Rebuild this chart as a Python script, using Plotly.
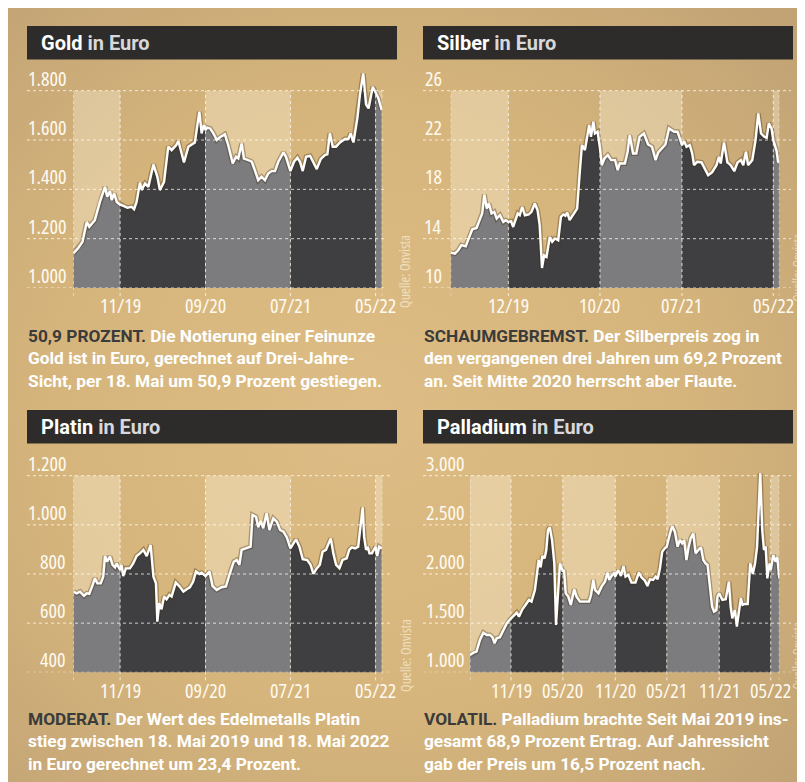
import base64
import pandas as pd
import plotly.graph_objects as go

# page is offset by the 8px body margin; the figure fills the rest of the window
OFF = 8
W, H = 797, 774

# ---------------- data ----------------
gold_dates = ["2019-05-18","2019-06-05","2019-06-20","2019-07-05","2019-07-14","2019-08-03","2019-08-21","2019-09-08","2019-09-16","2019-09-26",
              "2019-10-02","2019-10-11","2019-10-20","2019-11-01","2019-11-13","2019-11-27","2019-12-12","2019-12-21","2019-12-30","2020-01-11",
              "2020-01-17","2020-01-29","2020-02-10","2020-02-28","2020-03-13","2020-03-22","2020-04-06","2020-04-21","2020-05-03","2020-05-19",
              "2020-05-27","2020-06-04","2020-06-16","2020-07-02","2020-07-13","2020-07-25","2020-08-10","2020-08-18","2020-08-26","2020-09-01",
              "2020-09-07","2020-09-17","2020-09-29","2020-10-11","2020-10-25","2020-11-09","2020-11-21","2020-12-07","2020-12-19","2020-12-27",
              "2021-01-08","2021-01-16","2021-02-01","2021-02-13","2021-02-25","2021-03-08","2021-03-20","2021-04-01","2021-04-13","2021-04-25",
              "2021-05-07","2021-05-19","2021-06-06","2021-06-15","2021-07-01","2021-07-14","2021-07-26","2021-08-04","2021-08-14","2021-08-26",
              "2021-09-09","2021-09-18","2021-10-03","2021-10-17","2021-11-01","2021-11-10","2021-11-19","2021-11-29","2021-12-11","2021-12-25",
              "2022-01-12","2022-01-24","2022-02-01","2022-02-11","2022-02-25","2022-03-06","2022-03-18","2022-03-28","2022-04-06","2022-04-21",
              "2022-05-01","2022-05-11","2022-05-23"]
gold_values = [1140,1162,1187,1268,1248,1275,1349,1410,1370,1393,
               1356,1383,1349,1338,1333,1325,1329,1319,1349,1428,
               1397,1424,1410,1501,1451,1397,1430,1573,1559,1579,
               1596,1559,1509,1573,1582,1590,1715,1627,1661,1640,
               1650,1647,1627,1600,1613,1623,1579,1505,1532,1525,
               1586,1525,1518,1512,1474,1437,1451,1437,1464,1474,
               1474,1512,1550,1532,1474,1512,1528,1512,1474,1532,
               1536,1518,1482,1522,1539,1542,1627,1573,1573,1590,
               1604,1604,1627,1590,1688,1782,1870,1744,1728,1816,
               1793,1769,1721]

silver_dates = ["2019-05-23","2019-06-06","2019-06-17","2019-06-28","2019-07-12","2019-07-23","2019-08-03","2019-08-17","2019-08-28","2019-09-05",
                "2019-09-12","2019-09-20","2019-09-27","2019-10-06","2019-10-15","2019-10-23","2019-11-03","2019-11-14","2019-11-22","2019-12-01",
                "2019-12-10","2019-12-17","2020-01-01","2020-01-08","2020-01-16","2020-01-25","2020-02-07","2020-02-16","2020-02-27","2020-03-07",
                "2020-03-14","2020-03-22","2020-03-29","2020-04-06","2020-04-17","2020-04-25","2020-05-04","2020-05-15","2020-05-24","2020-06-01",
                "2020-06-08","2020-06-14","2020-06-22","2020-07-03","2020-07-17","2020-07-25","2020-08-02","2020-08-12","2020-08-20","2020-08-26",
                "2020-09-01","2020-09-09","2020-09-14","2020-09-23","2020-10-01","2020-10-07","2020-10-16","2020-10-27","2020-11-07","2020-11-20",
                "2020-11-29","2020-12-06","2020-12-23","2021-01-01","2021-01-08","2021-01-19","2021-01-30","2021-02-10","2021-02-24","2021-03-10",
                "2021-03-23","2021-04-04","2021-04-13","2021-04-26","2021-05-07","2021-05-19","2021-06-05","2021-06-16","2021-07-01","2021-07-08",
                "2021-07-16","2021-07-27","2021-08-04","2021-08-10","2021-08-21","2021-09-04","2021-09-15","2021-09-26","2021-10-09","2021-10-24",
                "2021-11-01","2021-11-07","2021-11-18","2021-11-29","2021-12-10","2021-12-22","2022-01-02","2022-01-13","2022-01-21","2022-01-30",
                "2022-02-06","2022-02-20","2022-03-03","2022-03-12","2022-03-21","2022-04-01","2022-04-09","2022-04-16","2022-04-25","2022-05-01",
                "2022-05-12","2022-05-17","2022-05-21"]
silver_values = [12.87,12.79,13.06,13.47,13.38,14.01,14.76,14.87,15.63,16.04,
                 17.58,16.44,16.85,16.04,16.17,15.63,15.90,15.36,15.50,15.36,
                 15.41,14.95,16.04,15.90,16.58,15.90,15.96,16.17,16.85,16.31,
                 15.14,11.62,12.65,12.52,14.14,13.74,14.01,13.87,15.77,15.96,
                 15.85,16.12,15.50,15.90,16.44,19.15,21.59,21.18,22.53,23.21,
                 22.26,23.48,22.53,22.67,21.32,19.96,20.50,20.77,20.37,20.37,
                 19.56,20.10,20.10,21.05,22.40,20.91,20.91,22.26,22.53,21.64,
                 21.45,20.37,20.99,21.32,21.64,22.94,22.67,22.67,21.59,21.91,
                 21.45,21.59,20.91,19.96,20.23,20.18,19.69,19.15,19.37,19.96,
                 20.64,20.10,21.80,20.18,19.96,19.47,20.18,20.37,19.96,21.05,
                 19.96,20.37,21.99,24.16,22.53,22.26,22.18,23.35,22.94,21.99,
                 21.10,20.18,20.37]

platin_dates = ["2019-05-18","2019-05-30","2019-06-11","2019-06-25","2019-07-05","2019-07-14","2019-07-26","2019-08-03","2019-08-12","2019-08-24",
                "2019-09-02","2019-09-08","2019-09-16","2019-09-26","2019-10-05","2019-10-14","2019-10-20","2019-11-01","2019-11-06","2019-11-12",
                "2019-11-22","2019-12-06","2019-12-18","2019-12-30","2020-01-11","2020-01-23","2020-02-04","2020-02-18","2020-02-28","2020-03-08",
                "2020-03-13","2020-03-20","2020-03-28","2020-04-06","2020-04-15","2020-04-25","2020-05-03","2020-05-18","2020-05-30","2020-06-14",
                "2020-06-26","2020-07-07","2020-07-19","2020-07-29","2020-08-10","2020-08-18","2020-09-01","2020-09-07","2020-09-15","2020-09-26",
                "2020-10-11","2020-10-28","2020-11-13","2020-11-27","2020-12-11","2020-12-21","2020-12-31","2021-01-08","2021-01-23","2021-02-09",
                "2021-02-16","2021-02-28","2021-03-08","2021-03-17","2021-03-26","2021-04-07","2021-04-17","2021-05-01","2021-05-13","2021-05-25",
                "2021-06-06","2021-06-18","2021-07-01","2021-07-09","2021-07-21","2021-08-02","2021-08-14","2021-08-30","2021-09-11","2021-09-21",
                "2021-10-03","2021-10-14","2021-10-24","2021-11-05","2021-11-22","2021-12-01","2021-12-11","2021-12-23","2022-01-03","2022-01-18",
                "2022-01-27","2022-02-05","2022-02-17","2022-02-28","2022-03-06","2022-03-16","2022-03-21","2022-03-28","2022-04-03","2022-04-09",
                "2022-04-18","2022-04-25","2022-05-01","2022-05-07","2022-05-14","2022-05-23"]
platin_values = [728,721,728,711,721,719,755,782,762,762,
                 789,873,850,871,837,827,843,816,837,792,
                 823,823,843,873,884,898,873,918,789,762,
                 606,681,656,708,697,715,708,765,751,728,
                 738,746,769,810,800,805,792,800,810,751,
                 735,746,749,803,850,857,837,898,904,911,
                 1040,1033,990,1017,986,1047,979,1026,1013,979,
                 972,949,904,918,941,911,860,857,837,800,
                 823,837,891,898,945,884,837,823,857,864,
                 898,908,904,911,965,1071,952,898,911,884,
                 884,900,911,873,911,904]

palladium_dates = ["2019-06-10","2019-06-22","2019-07-03","2019-07-15","2019-07-27","2019-08-08","2019-08-19","2019-08-28","2019-09-04","2019-09-12",
                   "2019-09-23","2019-10-05","2019-10-17","2019-10-29","2019-11-01","2019-11-09","2019-11-21","2019-11-29","2019-12-11","2019-12-22",
                   "2020-01-03","2020-01-12","2020-01-24","2020-02-02","2020-02-06","2020-02-13","2020-02-19","2020-02-27","2020-03-04","2020-03-10",
                   "2020-03-16","2020-03-24","2020-04-01","2020-04-07","2020-04-15","2020-04-21","2020-05-01","2020-05-05","2020-05-11","2020-05-20",
                   "2020-05-29","2020-06-10","2020-06-18","2020-06-30","2020-07-18","2020-08-01","2020-08-08","2020-08-16","2020-08-22","2020-09-03",
                   "2020-09-14","2020-09-26","2020-10-05","2020-10-11","2020-10-19","2020-10-29","2020-11-01","2020-11-11","2020-11-21","2020-11-30",
                   "2020-12-07","2020-12-17","2020-12-28","2021-01-11","2021-01-23","2021-02-01","2021-02-13","2021-02-22","2021-03-03","2021-03-14",
                   "2021-03-23","2021-03-30","2021-04-07","2021-04-15","2021-04-24","2021-05-01","2021-05-12","2021-05-20","2021-05-29","2021-06-08",
                   "2021-06-16","2021-06-24","2021-07-01","2021-07-09","2021-07-17","2021-07-24","2021-08-02","2021-08-10","2021-08-20","2021-08-29",
                   "2021-09-06","2021-09-14","2021-09-21","2021-09-29","2021-10-07","2021-10-14","2021-10-22","2021-10-26","2021-11-01","2021-11-12",
                   "2021-11-24","2021-12-05","2021-12-11","2021-12-17","2021-12-26","2022-01-02","2022-01-10","2022-01-16","2022-01-22","2022-01-30",
                   "2022-02-09","2022-02-18","2022-02-27","2022-03-07","2022-03-14","2022-03-19","2022-03-25","2022-04-01","2022-04-07","2022-04-13",
                   "2022-04-19","2022-04-27","2022-05-01","2022-05-10","2022-05-18","2022-05-24","2022-05-31"]
palladium_values = [1176,1200,1210,1329,1403,1380,1380,1356,1295,1346,
                    1356,1430,1498,1539,1549,1566,1607,1566,1641,1685,
                    1736,1719,1837,2041,2142,2068,2183,2159,2244,2448,
                    2475,2346,2108,1481,1905,2108,2024,2041,1803,1770,
                    1685,1844,1770,1719,1719,1719,1786,1939,1837,1803,
                    1871,1922,2014,1939,1980,2014,1973,2041,1980,2081,
                    1973,1990,1912,1912,2014,1966,1932,1878,1946,1939,
                    1973,1946,2058,2227,2261,2278,2407,2488,2431,2278,
                    2346,2312,2346,2142,2278,2363,2414,2210,2244,2271,
                    2142,2108,2092,1871,1668,1617,1634,1770,1803,1736,
                    1743,1922,1668,1549,1634,1464,1617,1753,1685,1695,
                    1695,2108,2000,2108,2278,2583,3024,2448,2244,2278,
                    1956,2108,2041,2193,2125,2170,1956]

gold_yticks = [1000, 1200, 1400, 1600, 1800]
gold_ytext = ["1.000", "1.200", "1.400", "1.600", "1.800"]
silver_yticks = [10, 14, 18, 22, 26]
silver_ytext = ["10", "14", "18", "22", "26"]
platin_yticks = [400, 600, 800, 1000, 1200]
platin_ytext = ["400", "600", "800", "1.000", "1.200"]
palladium_yticks = [1000, 1500, 2000, 2500, 3000]
palladium_ytext = ["1.000", "1.500", "2.000", "2.500", "3.000"]

gold_xticks = ["2019-11-01", "2020-09-01", "2021-07-01", "2022-05-01"]
gold_xtext = ["11/19", "09/20", "07/21", "05/22"]
silver_xticks = ["2019-12-01", "2020-10-01", "2021-07-01", "2022-05-01"]
silver_xtext = ["12/19", "10/20", "07/21", "05/22"]
platin_xticks = gold_xticks
platin_xtext = gold_xtext
palladium_xticks = ["2019-11-01", "2020-05-01", "2020-11-01", "2021-05-01", "2021-11-01", "2022-05-01"]
palladium_xtext = ["11/19", "05/20", "11/20", "05/21", "11/21", "05/22"]

titles = [("Gold", " in Euro"), ("Silber", " in Euro"), ("Platin", " in Euro"), ("Palladium", " in Euro")]
captions = [
    ("50,9 PROZENT.", " Die Notierung einer Feinunze<br>Gold ist in Euro, gerechnet auf Drei-Jahre-<br>Sicht, per 18. Mai um 50,9 Prozent gestiegen."),
    ("SCHAUMGEBREMST.", " Der Silberpreis zog in<br>den vergangenen drei Jahren um 69,2 Prozent<br>an. Seit Mitte 2020 herrscht aber Flaute."),
    ("MODERAT.", " Der Wert des Edelmetalls Platin<br>stieg zwischen 18. Mai 2019 und 18. Mai 2022<br>in Euro gerechnet um 23,4 Prozent."),
    ("VOLATIL.", " Palladium brachte Seit Mai 2019 ins-<br>gesamt 68,9 Prozent Ertrag. Auf Jahressicht<br>gab der Preis um 16,5 Prozent nach."),
]
source_text = "Quelle: Onvista"

# ---------------- styling ----------------
DARK = "#3f3f41"
GRAY = "#7c7c7e"
BAND = "rgba(255,246,226,0.34)"
BAR = "#2e2c2a"
GRID = "rgba(255,255,255,0.75)"
TICKFONT = "Open Sans, sans-serif"
TEXTFONT = "Roboto, Liberation Sans, sans-serif"


def cond(t):
    return "<span style='font-stretch:condensed'>%s</span>" % t


def px(x):
    return (x - OFF) / W


def py(y):
    return 1 - (y - OFF) / H


panels = [
    dict(ax="", dates=gold_dates, values=gold_values, xr=["2019-05-18", "2022-05-25"], xdom=(73.3, 382.3),
         ybot=288.0, ytop_px=65.0, ytop_grid=90.7, yticks=gold_yticks, ytext=gold_ytext,
         xticks=gold_xticks, xtext=gold_xtext, lab_right=68, hline=(27, 384), bar=(27, 397, 26, 59.5),
         title=titles[0], caption=captions[0], cap_y=324, xlab_y=305, src=(405, 272, 14), left=27),
    dict(ax="2", dates=silver_dates, values=silver_values, xr=["2019-05-23", "2022-05-21"], xdom=(450.7, 779.3),
         ybot=288.0, ytop_px=65.0, ytop_grid=90.7, yticks=silver_yticks, ytext=silver_ytext,
         xticks=silver_xticks, xtext=silver_xtext, lab_right=444, hline=(423, 791), bar=(423, 793, 26, 59.5),
         title=titles[1], caption=captions[1], cap_y=324, xlab_y=305, src=(796.5, 268, 13), left=423),
    dict(ax="3", dates=platin_dates, values=platin_values, xr=["2019-05-18", "2022-05-25"], xdom=(73.3, 382.3),
         ybot=672.3, ytop_px=455.0, ytop_grid=475.7, yticks=platin_yticks, ytext=platin_ytext,
         xticks=platin_xticks, xtext=platin_xtext, lab_right=68, hline=(27, 392), bar=(27, 397, 410, 443.5),
         title=titles[2], caption=captions[2], cap_y=707, xlab_y=690, src=(405, 656, 14), left=27),
    dict(ax="4", dates=palladium_dates, values=palladium_values, xr=["2019-06-10", "2022-05-31"], xdom=(470.0, 779.3),
         ybot=672.3, ytop_px=455.0, ytop_grid=475.7, yticks=palladium_yticks, ytext=palladium_ytext,
         xticks=palladium_xticks, xtext=palladium_xtext, lab_right=466, hline=(423, 791), bar=(423, 793, 410, 443.5),
         title=titles[3], caption=captions[3], cap_y=707, xlab_y=690, src=(796.5, 656, 13), left=423),
]

fig = go.Figure()
shapes = []
annotations = []
layout_axes = {}

for p in panels:
    xa = "x" + p["ax"]
    ya = "y" + p["ax"]
    y0v, y1v = p["yticks"][0], p["yticks"][-1]
    ppu = (p["ybot"] - p["ytop_grid"]) / (y1v - y0v)
    ytop_val = y1v + (p["ytop_grid"] - p["ytop_px"]) / ppu
    layout_axes["xaxis" + p["ax"]] = dict(domain=[px(p["xdom"][0]), px(p["xdom"][1])], range=p["xr"], type="date",
                                          visible=False, anchor=ya, fixedrange=True)
    layout_axes["yaxis" + p["ax"]] = dict(domain=[py(p["ybot"]), py(p["ytop_px"])], range=[y0v, ytop_val],
                                          visible=False, anchor=xa, fixedrange=True)

    df = pd.DataFrame({"d": pd.to_datetime(p["dates"]), "v": p["values"]})
    edges = [pd.Timestamp(p["xr"][0])] + [pd.Timestamp(t) for t in p["xticks"]] + [pd.Timestamp(p["xr"][1])]

    for i in range(len(edges) - 1):
        if i % 2 == 0:
            shapes.append(dict(type="rect", xref=xa, yref=ya, x0=edges[i], x1=edges[i + 1], y0=y0v, y1=y1v,
                               fillcolor=BAND, line=dict(width=0), layer="below"))

    for i in range(len(edges) - 1):
        seg = df[(df.d >= edges[i]) & (df.d <= edges[i + 1])]
        fig.add_trace(go.Scatter(x=seg.d, y=seg.v, mode="lines", line=dict(width=0), fill="tozeroy",
                                 fillcolor=GRAY if i % 2 == 0 else DARK, xaxis=xa, yaxis=ya,
                                 hoverinfo="skip", showlegend=False))
    fig.add_trace(go.Scatter(x=df.d, y=df.v, mode="lines", line=dict(color="rgba(60,40,15,0.35)", width=5),
                             xaxis=xa, yaxis=ya, hoverinfo="skip", showlegend=False))
    fig.add_trace(go.Scatter(x=df.d, y=df.v, mode="lines", line=dict(color="white", width=2.4),
                             xaxis=xa, yaxis=ya, showlegend=False))

    for v in p["yticks"]:
        shapes.append(dict(type="line", xref="paper", yref=ya, x0=px(p["hline"][0]), x1=px(p["hline"][1]),
                           y0=v, y1=v, line=dict(color=GRID, width=1, dash="dot"), layer="above"))
    for t in edges:
        shapes.append(dict(type="line", xref=xa, yref="paper", x0=t, x1=t, y0=py(p["ybot"] + 8),
                           y1=py(p["ytop_grid"]), line=dict(color=GRID, width=1, dash="dot"), layer="above"))

    for v, t in zip(p["yticks"], p["ytext"]):
        annotations.append(dict(text=cond(t), xref="paper", yref=ya, x=px(p["lab_right"]), y=v, xanchor="right",
                                yanchor="bottom", yshift=-3, showarrow=False,
                                font=dict(family=TICKFONT, size=20, weight=500, color="#fffaf0")))
    for t, lab in zip(p["xticks"], p["xtext"]):
        annotations.append(dict(text=cond(lab), xref=xa, yref="paper", x=t, y=py(p["xlab_y"]), xanchor="center",
                                yanchor="middle", showarrow=False,
                                font=dict(family=TICKFONT, size=20, weight=500, color="#fffaf0")))
    bx0, bx1, by0, by1 = p["bar"]
    shapes.append(dict(type="rect", xref="paper", yref="paper", x0=px(bx0), x1=px(bx1), y0=py(by1), y1=py(by0),
                       fillcolor=BAR, line=dict(width=0), layer="below"))
    annotations.append(dict(text="<b>%s</b><b><span style='color:#d8d8dc'>%s</span></b>" % p["title"],
                            xref="paper", yref="paper", x=px(bx0 + 12), y=py((by0 + by1) / 2 + 0.5), xanchor="left",
                            yanchor="middle", showarrow=False, font=dict(family=TEXTFONT, size=20, color="white")))
    annotations.append(dict(text="<b><span style='color:#3b3b3b'>%s</span>%s</b>" % p["caption"],
                            xref="paper", yref="paper", x=px(p["left"] - 1), y=py(p["cap_y"]), xanchor="left",
                            yanchor="top", align="left", showarrow=False,
                            font=dict(family=TEXTFONT, size=17.3, color="white")))
    annotations.append(dict(text=cond(source_text), xref="paper", yref="paper", x=px(p["src"][0]),
                            y=py(p["src"][1]), xanchor="center", yanchor="middle", textangle=-90, showarrow=False,
                            borderpad=0, font=dict(family=TICKFONT, size=p["src"][2], color="rgba(255,250,235,0.6)")))

svg = ('<svg xmlns="http://www.w3.org/2000/svg" width="797" height="774">'
       '<defs><radialGradient id="g" cx="45%" cy="52%" r="72%">'
       '<stop offset="0" stop-color="#ddbd85"/><stop offset="0.55" stop-color="#d6b57c"/>'
       '<stop offset="1" stop-color="#c1a375"/></radialGradient></defs>'
       '<rect width="797" height="774" fill="url(#g)"/></svg>')
src = "data:image/svg+xml;base64," + base64.b64encode(svg.encode()).decode()

fig.update_layout(
    width=W, height=H, margin=dict(l=0, r=0, t=0, b=0),
    paper_bgcolor="#d5b47c", plot_bgcolor="rgba(0,0,0,0)",
    shapes=shapes, annotations=annotations, showlegend=False,
    images=[dict(source=src, xref="paper", yref="paper", x=0, y=1, sizex=1, sizey=1,
                 xanchor="left", yanchor="top", sizing="stretch", layer="below")],
    **layout_axes,
)
fig.write_html("out.html")
